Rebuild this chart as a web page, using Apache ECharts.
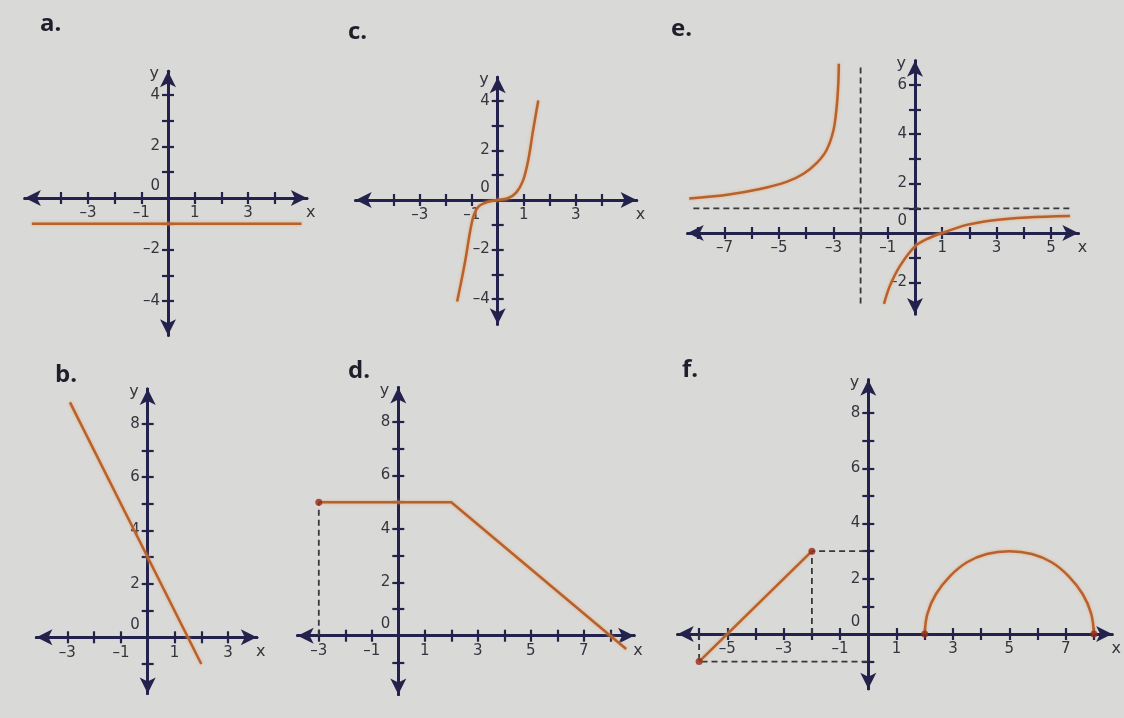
<!DOCTYPE html>
<html lang="es">
<head>
<meta charset="UTF-8">
<meta name="viewport" content="width=device-width, initial-scale=1.0">
<title>Gráficas de funciones</title>
<script src="https://cdn.jsdelivr.net/npm/echarts@6.0.0/dist/echarts.min.js"></script>
<style>
    * { margin: 0; padding: 0; box-sizing: border-box; }
    html, body { background: #d9d9d7; }
    #chart { width: 1124px; height: 718px; }
</style>
</head>
<body>
<div id="chart"></div>
<script>
    // panel letters, in panel order a..f
    const panelNames = ['a.', 'b.', 'c.', 'd.', 'e.', 'f.'];

    // tick marks on each axis
    const xTicksA = [-4, -3, -2, -1, 1, 2, 3, 4];
    const yTicksA = [-4, -3, -2, -1, 1, 2, 3, 4];
    const xTicksB = [-3, -2, -1, 1, 2, 3];
    const yTicksB = [-1, 1, 2, 3, 4, 5, 6, 7, 8];
    const xTicksC = [-4, -3, -2, -1, 1, 2, 3, 4];
    const yTicksC = [-4, -3, -2, -1, 1, 2, 3, 4];
    const xTicksD = [-3, -2, -1, 1, 2, 3, 4, 5, 6, 7, 8];
    const yTicksD = [-1, 1, 2, 3, 4, 5, 6, 7, 8];
    const xTicksE = [-8, -7, -6, -5, -4, -3, -2, -1, 1, 2, 3, 4, 5];
    const yTicksE = [-2, -1, 1, 2, 3, 4, 5, 6];
    const xTicksF = [-6, -5, -4, -3, -2, -1, 1, 2, 3, 4, 5, 6, 7, 8];
    const yTicksF = [-1, 1, 2, 3, 4, 5, 6, 7, 8];

    // tick labels
    const xLabelsA = [-3, -1, 1, 3];
    const yLabelsA = [-4, -2, 0, 2, 4];
    const xLabelsB = [-3, -1, 1, 3];
    const yLabelsB = [0, 2, 4, 6, 8];
    const xLabelsC = [-3, -1, 1, 3];
    const yLabelsC = [-4, -2, 0, 2, 4];
    const xLabelsD = [-3, -1, 1, 3, 5, 7];
    const yLabelsD = [0, 2, 4, 6, 8];
    const xLabelsE = [-7, -5, -3, -1, 1, 3, 5];
    const yLabelsE = [-2, 0, 2, 4, 6];
    const xLabelsF = [-5, -3, -1, 1, 3, 5, 7];
    const yLabelsF = [0, 2, 4, 6, 8];

    // a. constant function
    const lineA = [[-5.1, -1], [5.0, -1]];
    // b. decreasing line
    const lineB = [[-2.9, 8.8], [2.0, -1.0]];
    // c. cubic-like curve
    const curveC = [[-1.56, -4.09], [-1.40, -3.28], [-1.23, -2.34], [-1.06, -1.26], [-0.91, -0.58],
                    [-0.71, -0.24], [-0.39, -0.08], [0, 0], [0.39, 0.07], [0.71, 0.3],
                    [0.97, 0.77], [1.17, 1.58], [1.36, 2.8], [1.56, 4.01]];
    // d. piecewise line
    const pathD = [[-3, 5], [2, 5], [8, 0], [8.6, -0.5]];
    const dotsD = [[-3, 5]];
    const guideD = [[-3, 0], [-3, 5]];
    // e. hyperbola and its asymptotes
    const branchE1 = [[-8.3, 1.4], [-6.9, 1.55], [-5.7, 1.78], [-4.7, 2.08], [-4.1, 2.4], [-3.6, 2.85],
                      [-3.25, 3.36], [-3.0, 4.15], [-2.88, 5.1], [-2.82, 6.05], [-2.8, 6.85]];
    const branchE2 = [[-1.14, -2.87], [-0.92, -2.13], [-0.55, -1.33], [0, -0.54], [0.43, -0.25],
                      [1.0, 0], [1.9, 0.33], [2.9, 0.52], [4.1, 0.63], [5.7, 0.69]];
    const asymptoteEv = [[-2, -2.85], [-2, 6.7]];
    const asymptoteEh = [[-8.15, 1], [5.75, 1]];
    // f. segment + semicircle
    const lineF = [[-6, -1], [-2, 3]];
    const arcF = [[2, 0], [2.1, 0.75], [2.4, 1.45], [2.9, 2.1], [3.5, 2.6], [4.2, 2.9], [5, 3],
                  [5.8, 2.9], [6.5, 2.6], [7.1, 2.1], [7.6, 1.45], [7.9, 0.75], [8, 0]];
    const dotsF = [[-6, -1], [-2, 3], [2, 0], [8, 0]];
    const guideF1 = [[-2, 0], [-2, 3], [0, 3]];
    const guideF2 = [[-6, 0], [-6, -1], [0, -1]];

    const xTicks = [xTicksA, xTicksB, xTicksC, xTicksD, xTicksE, xTicksF];
    const yTicks = [yTicksA, yTicksB, yTicksC, yTicksD, yTicksE, yTicksF];
    const xLabels = [xLabelsA, xLabelsB, xLabelsC, xLabelsD, xLabelsE, xLabelsF];
    const yLabels = [yLabelsA, yLabelsB, yLabelsC, yLabelsD, yLabelsE, yLabelsF];

    // where each panel sits on the page: origin (px), px per unit, arrow tip extents (units)
    const layouts = [
        { ox: 168,   oy: 198,   sx: 26.7, sy: 25.8, x: [-5.66, 5.5],  y: [-5.63, 5.22], title: [40, 12] },
        { ox: 147.7, oy: 637.3, sx: 26.8, sy: 26.7, x: [-4.45, 4.37], y: [-2.4, 9.6],   title: [55, 363] },
        { ox: 497.7, oy: 200,   sx: 26,   sy: 24.8, x: [-5.77, 5.65], y: [-5.33, 5.27], title: [348, 20] },
        { ox: 398.3, oy: 635.7, sx: 26.5, sy: 26.7, x: [-4.1, 9.2],   y: [-2.5, 9.6],   title: [348, 359] },
        { ox: 915,   oy: 233,   sx: 27.2, sy: 24.7, x: [-8.65, 6.3],  y: [-3.6, 7.3],   title: [671, 17] },
        { ox: 868.3, oy: 634,   sx: 28.2, sy: 27.6, x: [-7.04, 8.93], y: [-2.27, 9.5],  title: [682, 358] }
    ];

    const AXIS = '#22224c';
    const TEXT = '#35353d';
    const ORANGE = '#b7612d';
    const FONT = 'DejaVu Sans';
    const ARROW = [12, 16];
    const X_LABEL_GAP = 8;   // px from x axis line to label top
    const Y_LABEL_GAP = 8;   // px from y axis line to label right edge

    function fmt(v) {
        if (v === 0) return '{o|0}';
        return v < 0 ? '\u2013' + (-v) : String(v);
    }

    const labelStyle = {
        color: TEXT, fontSize: 15, fontFamily: FONT,
        rich: { o: { color: TEXT, fontSize: 15, fontFamily: FONT, padding: [0, 0, 24, 0] } }
    };

    const grids = [], xAxes = [], yAxes = [], titles = [];

    layouts.forEach(function (L, i) {
        const px = ARROW[1] / 2 / L.sx, py = ARROW[1] / 2 / L.sy;
        const xMin = L.x[0] + px, xMax = L.x[1] - px;
        const yMin = L.y[0] + py, yMax = L.y[1] - py;

        grids.push({
            left: L.ox + xMin * L.sx,
            top: L.oy - yMax * L.sy,
            width: (xMax - xMin) * L.sx,
            height: (yMax - yMin) * L.sy,
            containLabel: false,
            outerBoundsMode: 'none'
        });

        titles.push({
            text: panelNames[i], left: L.title[0], top: L.title[1], padding: 0,
            textStyle: { fontFamily: 'Open Sans', fontWeight: 'bold', fontSize: 24, color: '#1f1f2c' }
        });

        const line = { color: AXIS, width: 3 };
        const tick = { color: AXIS, width: 2.2 };

        // labels of an onZero axis are offset to the grid edge, so pull them back next to the axis
        const xMargin = X_LABEL_GAP + yMin * L.sy;
        const yMargin = Y_LABEL_GAP + xMin * L.sx;

        // main x axis: arrows, downward ticks, labels, name
        xAxes.push({
            type: 'value', gridIndex: i, min: xMin, max: xMax, position: 'bottom',
            axisLine: { show: true, onZero: true, onZeroAxisIndex: 2 * i,
                        symbol: ['arrow', 'arrow'], symbolSize: ARROW, lineStyle: line },
            axisTick: { show: true, customValues: xTicks[i], length: 6, lineStyle: tick },
            axisLabel: Object.assign({ show: true, customValues: xLabels[i], formatter: fmt, margin: xMargin }, labelStyle),
            splitLine: { show: false },
            name: 'x', nameLocation: 'end', nameGap: 4, nameMoveOverlap: false,
            nameTextStyle: { color: TEXT, fontSize: 16, fontFamily: FONT,
                             align: 'center', verticalAlign: 'top', padding: [7, 0, 0, 0] }
        });
        // second x axis: only the upward half of the ticks
        xAxes.push({
            type: 'value', gridIndex: i, min: xMin, max: xMax, position: 'top',
            axisLine: { show: true, onZero: true, onZeroAxisIndex: 2 * i, symbol: 'none', lineStyle: line },
            axisTick: { show: true, customValues: xTicks[i], length: 6, lineStyle: tick },
            axisLabel: { show: false },
            splitLine: { show: false }
        });

        yAxes.push({
            type: 'value', gridIndex: i, min: yMin, max: yMax, position: 'left',
            axisLine: { show: true, onZero: true, onZeroAxisIndex: 2 * i,
                        symbol: ['arrow', 'arrow'], symbolSize: ARROW, lineStyle: line },
            axisTick: { show: true, customValues: yTicks[i], length: 6, lineStyle: tick },
            axisLabel: Object.assign({ show: true, customValues: yLabels[i], formatter: fmt, margin: yMargin }, labelStyle),
            splitLine: { show: false },
            name: 'y', nameLocation: 'end', nameGap: -3, nameMoveOverlap: false,
            nameTextStyle: { color: TEXT, fontSize: 16, fontFamily: FONT,
                             align: 'right', verticalAlign: 'middle', padding: [0, 9, 0, 0] }
        });
        yAxes.push({
            type: 'value', gridIndex: i, min: yMin, max: yMax, position: 'right',
            axisLine: { show: true, onZero: true, onZeroAxisIndex: 2 * i, symbol: 'none', lineStyle: line },
            axisTick: { show: true, customValues: yTicks[i], length: 6, lineStyle: tick },
            axisLabel: { show: false },
            splitLine: { show: false }
        });
    });

    function on(i) { return { xAxisIndex: 2 * i, yAxisIndex: 2 * i }; }

    function curve(data, i, smooth) {
        return Object.assign({
            type: 'line', data: data, showSymbol: false, smooth: smooth || false, clip: false, z: 4,
            lineStyle: { color: ORANGE, width: 2.5, shadowColor: 'rgba(235,160,100,0.8)', shadowBlur: 3 }
        }, on(i));
    }
    function guide(data, i) {
        return Object.assign({
            type: 'line', data: data, showSymbol: false, clip: false, z: 3,
            lineStyle: { color: '#38383c', width: 1.8, type: [6, 4] }
        }, on(i));
    }
    function dots(data, i) {
        return Object.assign({
            type: 'scatter', data: data, symbolSize: 7, clip: false, z: 5,
            itemStyle: { color: '#962c1c' }
        }, on(i));
    }

    const series = [
        curve(lineA, 0),
        curve(lineB, 1),
        curve(curveC, 2, 0.35),
        guide(guideD, 3), curve(pathD, 3), dots(dotsD, 3),
        guide(asymptoteEv, 4), guide(asymptoteEh, 4),
        curve(branchE1, 4, 0.35), curve(branchE2, 4, 0.35),
        guide(guideF1, 5), guide(guideF2, 5), curve(lineF, 5), curve(arcF, 5, 0.4), dots(dotsF, 5)
    ];

    const chart = echarts.init(document.getElementById('chart'));
    chart.setOption({
        backgroundColor: '#d9d9d7',
        animation: false,
        title: titles,
        grid: grids,
        xAxis: xAxes,
        yAxis: yAxes,
        series: series
    });

    window.addEventListener('resize', function () { chart.resize(); });
</script>
</body>
</html>
